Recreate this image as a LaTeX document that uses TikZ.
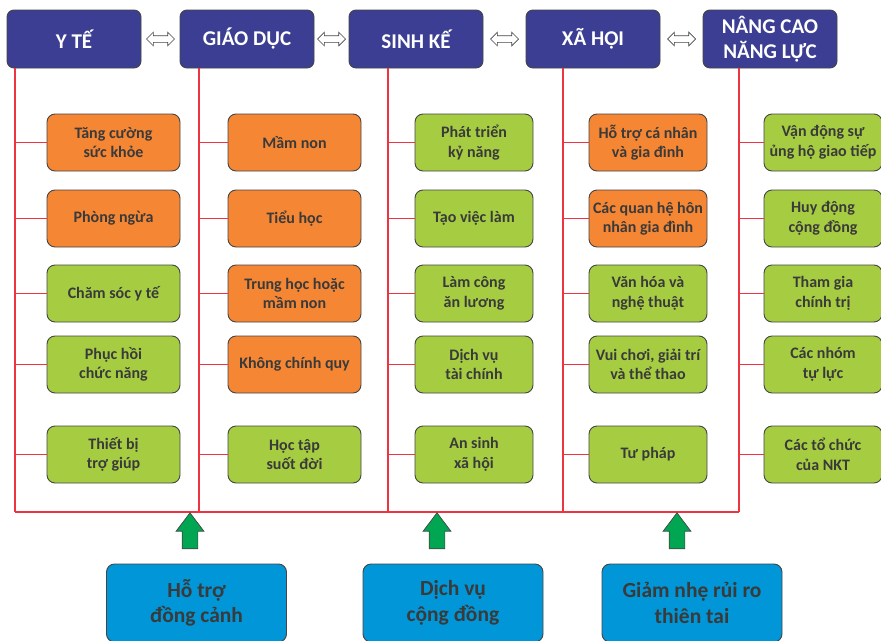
\documentclass[tikz,border=0pt]{standalone}
\usepackage{fontspec}
\setmainfont{Carlito}
\usetikzlibrary{shapes.arrows, positioning}
\definecolor{headblue}{HTML}{3B3E92}
\definecolor{itemorange}{HTML}{F58634}
\definecolor{itemgreen}{HTML}{A6CD42}
\definecolor{supportblue}{HTML}{0096D7}
\definecolor{arrowgreen}{HTML}{00A651}
\definecolor{linered}{HTML}{EE3440}
\definecolor{darkline}{HTML}{454545}
\definecolor{textgray}{HTML}{3A3A3A}

\begin{document}
\begin{tikzpicture}[
    x=1pt, y=-1pt,
    hbox/.style={rectangle, rounded corners=7pt, draw=darkline, fill=headblue, text=white, line width=0.9pt, minimum width=134pt, minimum height=58pt, inner sep=1pt, align=center, font=\fontsize{21}{25}\selectfont\bfseries},
    ibox/.style={rectangle, rounded corners=8pt, draw=darkline, text=textgray, line width=0.9pt, minimum width=133pt, minimum height=57pt, inner sep=1pt, align=center, font=\fontsize{16}{19.5}\selectfont\bfseries},
    obox/.style={ibox, fill=itemorange},
    gbox/.style={ibox, fill=itemgreen},
    narrow/.style={minimum width=118pt},
    sbox/.style={rectangle, rounded corners=8pt, draw=darkline, fill=supportblue, text=textgray, line width=0.9pt, minimum width=180pt, minimum height=78pt, inner sep=1pt, align=center, font=\fontsize{21.5}{25.5}\selectfont\bfseries},
    link/.style={double arrow, draw=darkline, fill=white, line width=0.7pt, minimum height=28pt, inner sep=3pt, double arrow head extend=3.5pt},
    push/.style={single arrow, shape border rotate=90, draw=darkline, fill=arrowgreen, line width=0.7pt, minimum height=36pt, inner sep=7.5pt, single arrow head extend=6pt, single arrow tip angle=74},
    rline/.style={draw=linered, line width=1.7pt}
]
\useasboundingbox (0,0) rectangle (881,640);

% main areas
\node[hbox] (yte) at (74,39) {Y TẾ};
\node[hbox] (giaoduc) at (247,39) {GIÁO DỤC};
\node[hbox] (sinhke) at (416,39) {SINH KẾ};
\node[hbox] (xahoi) at (593,39) {XÃ HỘI};
\node[hbox] (nangcao) at (770,39) {NÂNG CAO\\NĂNG LỰC};

\node[link] (l1) at (160.5,39) {};
\node[link] (l2) at (331.5,39) {};
\node[link] (l3) at (504.5,39) {};
\node[link] (l4) at (681.5,39) {};

% column 1
\node[obox] (a1) at (113.5,142.5) {Tăng cường\\sức khỏe};
\node[obox] (a2) at (113.5,218.5) {Phòng ngừa};
\node[gbox] (a3) at (113.5,293.5) {Chăm sóc y tế};
\node[gbox] (a4) at (113.5,364.5) {Phục hồi\\chức năng};
\node[gbox] (a5) at (113.5,454.5) {Thiết bị\\trợ giúp};

% column 2
\node[obox] (b1) at (294.5,142.5) {Mầm non};
\node[obox] (b2) at (294.5,218.5) {Tiểu học};
\node[obox] (b3) at (294.5,293.5) {Trung học hoặc\\mầm non};
\node[obox] (b4) at (294.5,364.5) {Không chính quy};
\node[gbox] (b5) at (294.5,454.5) {Học tập\\suốt đời};

% column 3
\node[gbox, narrow] (c1) at (474,142.5) {Phát triển\\kỷ năng};
\node[gbox, narrow] (c2) at (474,218.5) {Tạo việc làm};
\node[gbox, narrow] (c3) at (474,293.5) {Làm công\\ăn lương};
\node[gbox, narrow] (c4) at (474,364.5) {Dịch vụ\\tài chính};
\node[gbox, narrow] (c5) at (474,454.5) {An sinh\\xã hội};

% column 4
\node[obox, narrow] (d1) at (648,142.5) {Hỗ trợ cá nhân\\và gia đình};
\node[obox, narrow] (d2) at (648,218.5) {Các quan hệ hôn\\nhân gia đình};
\node[gbox, narrow] (d3) at (648,293.5) {Văn hóa và\\nghệ thuật};
\node[gbox, narrow] (d4) at (648,364.5) {Vui chơi, giải trí\\và thể thao};
\node[gbox, narrow] (d5) at (648,454.5) {Tư pháp};

% column 5
\node[gbox, narrow] (e1) at (823,142.5) {Vận động sự\\ủng hộ giao tiếp};
\node[gbox, narrow] (e2) at (823,218.5) {Huy động\\cộng đồng};
\node[gbox, narrow] (e3) at (823,293.5) {Tham gia\\chính trị};
\node[gbox, narrow] (e4) at (823,364.5) {Các nhóm\\tự lực};
\node[gbox, narrow] (e5) at (823,454.5) {Các tổ chức\\của NKT};

% red tree lines
\coordinate (ya) at (15,512);
\coordinate (yb) at (199,512);
\coordinate (yc) at (388,512);
\coordinate (yd) at (563,512);
\coordinate (ye) at (739,512);
\draw[rline] (yte.south -| ya) -- (ya);
\draw[rline] (giaoduc.south -| yb) -- (yb);
\draw[rline] (sinhke.south -| yc) -- (yc);
\draw[rline] (xahoi.south -| yd) -- (yd);
\draw[rline] (nangcao.south -| ye) -- (ye);
\draw[rline] (ya) -- (ye);
\foreach \n in {1,...,5} {
    \draw[rline] (ya |- a\n.west) -- (a\n.west);
    \draw[rline] (yb |- b\n.west) -- (b\n.west);
    \draw[rline] (yc |- c\n.west) -- (c\n.west);
    \draw[rline] (yd |- d\n.west) -- (d\n.west);
    \draw[rline] (ye |- e\n.west) -- (e\n.west);
}

% supports
\node[push] (p1) at (190,536) {};
\node[push] (p2) at (437,536) {};
\node[push] (p3) at (677,536) {};
\node[sbox] (s1) at (196.5,603) {Hỗ trợ\\đồng cảnh};
\node[sbox] (s2) at (453,603) {Dịch vụ\\cộng đồng};
\node[sbox] (s3) at (692,603) {Giảm nhẹ rủi ro\\thiên tai};
\end{tikzpicture}
\end{document}
